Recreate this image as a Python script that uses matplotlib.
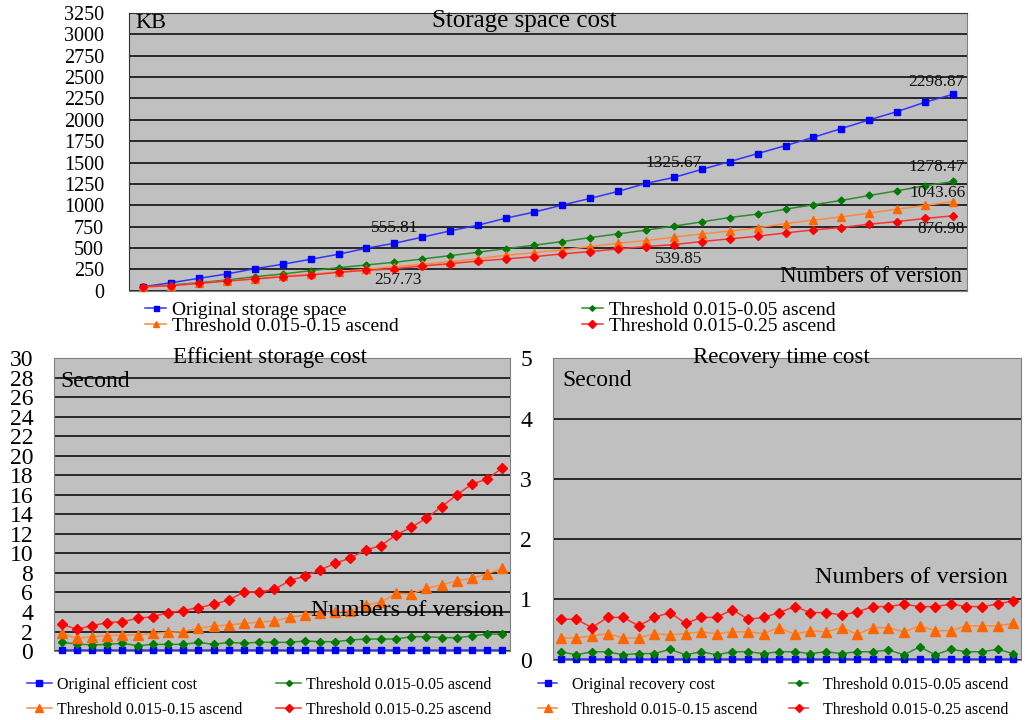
import matplotlib
matplotlib.use('Agg')
import matplotlib.pyplot as plt

plt.rcParams['font.family'] = ['Liberation Serif', 'DejaVu Serif']

# versions 1..30
versions = list(range(1, 31))

# storage space (KB)
space_orig = [47, 94, 145, 196, 258, 310, 368, 427, 498, 555.81,
              627, 701, 768, 850, 920, 1002, 1080, 1162, 1256, 1325.67,
              1420, 1511, 1605, 1698, 1796, 1898, 2000, 2097, 2207, 2298.87]
space_005 = [47, 67, 94, 126, 164, 196, 235, 270, 302, 333,
             372, 411, 451, 493, 533, 575, 622, 665, 709, 756,
             806, 857, 897, 955, 1006, 1057, 1115, 1170, 1229, 1278.47]
space_015 = [40, 59, 86, 114, 141, 172, 192, 223, 251, 282,
             310, 340, 376, 415, 446, 478, 516, 556, 587, 627,
             665, 697, 736, 786, 826, 865, 908, 955, 998, 1043.66]
space_025 = [47, 59, 86, 114, 137, 164, 184, 215, 239, 257.73,
             290, 317, 348, 372, 399, 431, 458, 489, 517, 539.85,
             576, 607, 638, 677, 712, 740, 779, 810, 846, 876.98]

# efficient storage cost (s)
eff_orig = [0.1, 0.1, 0.1, 0.1, 0.1, 0.1, 0.1, 0.1, 0.1, 0.1,
            0.1, 0.1, 0.1, 0.1, 0.1, 0.1, 0.1, 0.1, 0.1, 0.1,
            0.1, 0.1, 0.1, 0.1, 0.1, 0.1, 0.1, 0.1, 0.1, 0.1]
eff_005 = [0.89, 0.72, 0.62, 0.68, 0.79, 0.55, 0.68, 0.68, 0.68, 0.89,
           0.68, 0.89, 0.79, 0.92, 0.89, 0.89, 1.03, 0.96, 0.96, 1.13,
           1.23, 1.23, 1.23, 1.47, 1.47, 1.37, 1.37, 1.54, 1.74, 1.74]
eff_015 = [1.81, 1.30, 1.47, 1.57, 1.64, 1.64, 1.81, 1.91, 1.98, 2.32,
           2.56, 2.67, 2.84, 2.95, 3.08, 3.45, 3.69, 3.93, 3.97, 4.14,
           4.72, 4.99, 5.91, 5.85, 6.43, 6.77, 7.21, 7.45, 7.90, 8.48]
eff_025 = [2.77, 2.22, 2.60, 2.91, 3.01, 3.35, 3.52, 3.93, 4.14, 4.44,
           4.79, 5.23, 6.05, 6.05, 6.32, 7.21, 7.69, 8.31, 8.99, 9.54,
           10.36, 10.80, 11.90, 12.68, 13.61, 14.80, 16.00, 17.13, 17.61, 18.80]

# recovery time cost (s)
rec_orig = [0.01, 0.01, 0.01, 0.01, 0.01, 0.01, 0.01, 0.01, 0.01, 0.01,
            0.01, 0.01, 0.01, 0.01, 0.01, 0.01, 0.01, 0.01, 0.01, 0.01,
            0.01, 0.01, 0.01, 0.01, 0.01, 0.01, 0.01, 0.01, 0.01, 0.01]
rec_005 = [0.13, 0.08, 0.13, 0.13, 0.08, 0.10, 0.10, 0.17, 0.08, 0.13,
           0.08, 0.13, 0.13, 0.10, 0.13, 0.13, 0.10, 0.13, 0.10, 0.13,
           0.13, 0.16, 0.08, 0.21, 0.08, 0.17, 0.13, 0.13, 0.17, 0.10]
rec_015 = [0.36, 0.36, 0.39, 0.43, 0.36, 0.36, 0.43, 0.41, 0.43, 0.46,
           0.43, 0.46, 0.46, 0.43, 0.53, 0.42, 0.48, 0.46, 0.53, 0.42,
           0.53, 0.53, 0.46, 0.56, 0.48, 0.48, 0.56, 0.56, 0.56, 0.60]
rec_025 = [0.67, 0.67, 0.53, 0.70, 0.70, 0.56, 0.70, 0.78, 0.60, 0.70,
           0.70, 0.83, 0.67, 0.70, 0.78, 0.88, 0.78, 0.78, 0.74, 0.79,
           0.88, 0.88, 0.92, 0.88, 0.88, 0.92, 0.88, 0.88, 0.92, 0.98]

labels_thr = ['Threshold 0.015-0.05 ascend', 'Threshold 0.015-0.15 ascend',
              'Threshold 0.015-0.25 ascend']

# series styles: line colour, marker colour, marker, size
styles = [('#3333ff', '#0000ff', 's', 4.5),
          ('#2e8b2e', '#007a00', 'D', 3.5),
          ('#ff8a3d', '#ff6600', '^', 6),
          ('#ff3030', '#ff0000', 'D', 4.5)]

grey = '#c0c0c0'


def draw(ax, series, names, ymax, ystep, msc=1.0):
    ax.set_facecolor(grey)
    hs = []
    for vals, name, (lc, mc, mk, ms) in zip(series, names, styles):
        h, = ax.plot(versions, vals, color=lc, lw=1.1, marker=mk,
                     ms=ms * msc, mfc=mc, mec=mc, label=name, clip_on=False, zorder=3)
        hs.append(h)
    ax.set_xlim(0.5, 30.5)
    ax.set_ylim(0, ymax)
    ax.set_yticks(range(0, ymax + 1, ystep))
    ax.set_xticks([])
    ax.yaxis.grid(True, color='black', lw=1.1)
    ax.set_axisbelow(True)
    # legend fills column by column: put rows as orig/0.05, 0.15/0.25
    return [hs[0], hs[2], hs[1], hs[3]]


fig = plt.figure(figsize=(10.25, 7.2), dpi=100)

# ---- storage space ----
ax1 = fig.add_axes([0.1259, 0.5962, 0.8176, 0.3857])
h1 = draw(ax1, [space_orig, space_005, space_015, space_025],
          ['Original storage space'] + labels_thr, 3250, 250, msc=1.0)
ax1.tick_params(axis='y', length=0, pad=18, labelsize=14.5)
for s in ax1.spines.values():
    s.set_color('#303030')
ax1.spines['right'].set_color('#808080')
ax1.spines['bottom'].set_color('#808080')
ax1.text(0.472, 0.97, 'Storage space cost', transform=ax1.transAxes,
         ha='center', va='center', fontsize=18)
ax1.text(0.007, 0.962, 'KB', transform=ax1.transAxes, ha='left', va='center', fontsize=16)
ax1.text(0.994, 0.053, 'Numbers of version', transform=ax1.transAxes,
         ha='right', va='center', fontsize=16.5)

# value labels (index, series, x offset px, y offset px)
notes = [(9, space_orig, 0, 15), (19, space_orig, 0, 14), (29, space_orig, -17, 12),
         (29, space_005, -16, 14), (29, space_015, -16, 9), (29, space_025, -12, -13),
         (9, space_025, 4, -11), (19, space_025, 5, -14)]
for i, ser, dx, dy in notes:
    ax1.annotate(f'{ser[i]:.2f}', (versions[i], ser[i]), xytext=(dx, dy),
                 textcoords='offset pixels', ha='center', va='center', fontsize=12.5,
                 color='#111111', zorder=5)

fig.legend(handles=h1, ncol=2, loc='upper left', bbox_to_anchor=(0.1415, 0.582),
           frameon=False, fontsize=14, handlelength=1.1, handletextpad=0.3,
           columnspacing=9.4, labelspacing=-0.08, borderpad=0, borderaxespad=0,
           markerscale=0.8)

# ---- efficient storage cost ----
ax2 = fig.add_axes([0.0527, 0.0958, 0.4449, 0.4065])
h2 = draw(ax2, [eff_orig, eff_005, eff_015, eff_025],
          ['Original efficient cost'] + labels_thr, 30, 2, msc=1.1)
ax2.tick_params(axis='y', length=0, pad=15, labelsize=17)
for s in ax2.spines.values():
    s.set_color('#808080')
ax2.text(0.4726, 1.004, 'Efficient storage cost', transform=ax2.transAxes,
         ha='center', va='center', fontsize=16.5)
ax2.text(0.013, 0.922, 'Second', transform=ax2.transAxes, ha='left', va='center', fontsize=17)
ax2.text(0.987, 0.14, 'Numbers of version', transform=ax2.transAxes,
         ha='right', va='center', fontsize=17.5)
fig.legend(handles=h2, ncol=2, loc='upper left', bbox_to_anchor=(0.026, 0.06),
           frameon=False, fontsize=11.5, handlelength=1.6, handletextpad=0.3,
           columnspacing=2.1, labelspacing=0.55, borderpad=0, borderaxespad=0,
           markerscale=0.8)

# ---- recovery time cost ----
ax3 = fig.add_axes([0.5394, 0.0839, 0.4568, 0.4185])
h3 = draw(ax3, [rec_orig, rec_005, rec_015, rec_025],
          ['Original recovery cost'] + labels_thr, 5, 1, msc=1.1)
ax3.tick_params(axis='y', length=0, pad=15, labelsize=17)
for s in ax3.spines.values():
    s.set_color('#808080')
ax3.text(0.488, 1.004, 'Recovery time cost', transform=ax3.transAxes,
         ha='center', va='center', fontsize=16.5)
ax3.text(0.021, 0.925, 'Second', transform=ax3.transAxes, ha='left', va='center', fontsize=17)
ax3.text(0.972, 0.271, 'Numbers of version', transform=ax3.transAxes,
         ha='right', va='center', fontsize=17.5)
fig.legend(handles=h3, ncol=2, loc='upper left', bbox_to_anchor=(0.525, 0.06),
           frameon=False, fontsize=11.5, handlelength=1.2, handletextpad=0.9,
           columnspacing=2.0, labelspacing=0.55, borderpad=0, borderaxespad=0,
           markerscale=0.8)

fig.savefig('out.png', dpi=100)
